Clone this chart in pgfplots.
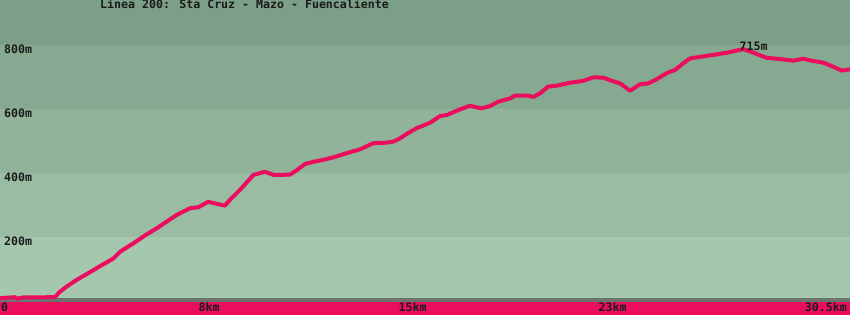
\documentclass[border=0pt]{standalone}
\usepackage{pgfplots}
\pgfplotsset{compat=1.18}
\usepackage{fontspec}
\setmainfont{DejaVu Sans Mono}
\newcommand\lf{\fontsize{11.6bp}{12bp}\selectfont\bfseries}
\definecolor{bandA}{HTML}{7C9F88}
\definecolor{bandB}{HTML}{86A991}
\definecolor{bandC}{HTML}{90B39A}
\definecolor{bandD}{HTML}{9ABCA3}
\definecolor{bandE}{HTML}{A5C7AE}
\definecolor{baseGray}{HTML}{6B746E}
\definecolor{barPink}{HTML}{EB0E5E}
\definecolor{txt}{HTML}{1A1A1A}
\pgfplotstableread{
km    alt
0.00  9
0.54  12
0.61  7
0.83  11
1.97  12
2.15  29
2.39  45
2.75  66
3.23  90
3.59  109
4.07  133
4.31  154
4.78  180
5.26  208
5.62  227
5.98  248
6.34  269
6.82  290
7.12  293
7.47  310
7.71  305
8.07  298
8.25  316
8.61  347
8.91  376
9.09  394
9.51  404
9.81  394
10.05 394
10.41 395
10.65 409
10.94 428
11.24 435
11.60 441
11.96 449
12.44 462
12.92 474
13.39 493
13.88 495
14.11 498
14.35 508
14.59 522
14.95 540
15.43 557
15.79 578
16.03 581
16.51 599
16.86 610
17.28 602
17.58 609
17.88 623
18.30 633
18.48 642
18.90 642
19.14 638
19.38 649
19.67 670
19.98 673
20.45 682
20.93 688
21.29 699
21.65 698
21.95 688
22.25 680
22.61 657
22.96 677
23.26 680
23.56 693
23.92 712
24.22 722
24.52 743
24.76 758
25.12 763
25.59 769
26.08 776
26.67 787
27.03 776
27.51 760
27.99 756
28.47 751
28.82 757
29.18 750
29.54 745
29.90 732
30.20 720
30.50 724
}\profile
\begin{document}
\begin{tikzpicture}
\begin{axis}[
  width=850bp, height=315bp, scale only axis,
  xmin=0, xmax=30.5, ymin=-43.75, ymax=940.625,
  axis lines=none, ticks=none, clip=true,
]
\fill[bandA] (axis cs:0,800) rectangle (axis cs:30.5,940.625);
\fill[bandB] (axis cs:0,600) rectangle (axis cs:30.5,800);
\fill[bandC] (axis cs:0,400) rectangle (axis cs:30.5,600);
\fill[bandD] (axis cs:0,200) rectangle (axis cs:30.5,400);
\fill[bandE] (axis cs:0,0) rectangle (axis cs:30.5,200);
\fill[baseGray] (axis cs:0,-3.125) rectangle (axis cs:30.5,9.375);
\fill[barPink] (axis cs:0,-43.75) rectangle (axis cs:30.5,-3.125);
\addplot[no marks, color=barPink, line width=4bp, line join=round, line cap=round] table[x=km, y=alt] {\profile};
\begin{scope}[every node/.style={inner sep=0pt, text=txt}]
\node[anchor=base west] at (rel axis cs:0.11765,0.97302) {\lf Línea 200: Sta Cruz - Mazo - Fuencaliente};
\node[anchor=base west] at (rel axis cs:0.0047,0.8308) {\lf 800m};
\node[anchor=base west] at (rel axis cs:0.0047,0.6276) {\lf 600m};
\node[anchor=base west] at (rel axis cs:0.0047,0.4244) {\lf 400m};
\node[anchor=base west] at (rel axis cs:0.0047,0.2213) {\lf 200m};
\node[anchor=base west] at (rel axis cs:0.0012,0.0111) {\lf 0};
\node[anchor=base west] at (rel axis cs:0.2335,0.0111) {\lf 8km};
\node[anchor=base west] at (rel axis cs:0.4688,0.0111) {\lf 15km};
\node[anchor=base west] at (rel axis cs:0.7041,0.0111) {\lf 23km};
\node[anchor=base east] at (rel axis cs:0.9965,0.0111) {\lf 30.5km};
\node[anchor=base west] at (rel axis cs:0.870,0.839) {\lf 715m};
\end{scope}
\end{axis}
\pgfresetboundingbox
\path[use as bounding box] (current axis.south west) rectangle (current axis.north east);
\end{tikzpicture}
\end{document}
